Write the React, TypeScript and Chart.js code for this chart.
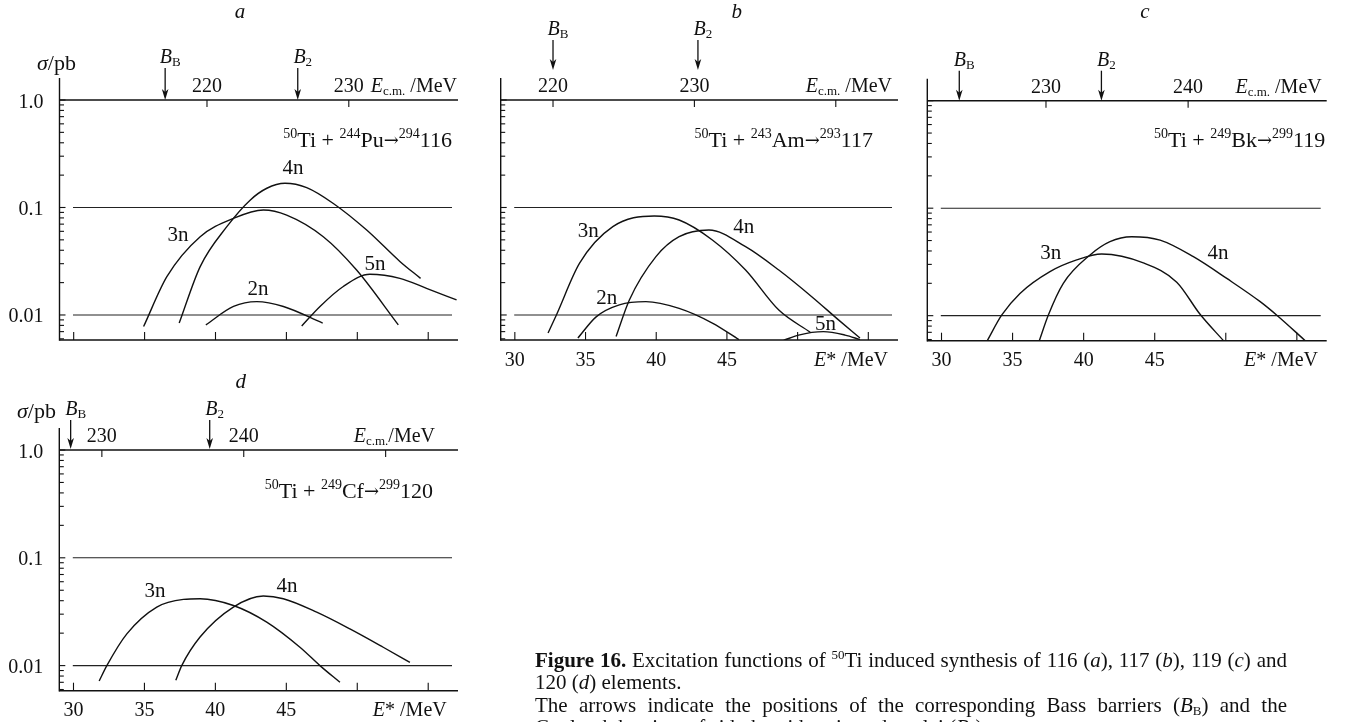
import React, { useEffect, useRef } from "react";
import { Chart, registerables } from "chart.js";
Chart.register(...registerables);

const W = 1348;
const H = 722;
const FONT = '"Liberation Serif", "Times New Roman", serif';
const ARROW_FONT = '"DejaVu Serif", serif';

// ---------- shared axis values ----------
const eStarMin = 29.0;
const eStarMax = 57.1;
const sigmaMin = 0.00585;
const sigmaMax = 1.0;
const eStarTicks = [30, 35, 40, 45, 50, 55];
const eStarTickLabels = ["30", "35", "40", "45", "", ""];
const sigmaMajorTicks = [1.0, 0.1, 0.01];
const sigmaTickLabels = ["1.0", "0.1", "0.01"];
const sigmaGridLines = [0.1, 0.01];
const minorMultipliers = [2, 3, 4, 5, 6, 7, 8, 9];
const decades = [0.001, 0.01, 0.1];

// ---------- panel a : 50Ti + 244Pu -> 294116 ----------
const aQ = 180.6; // E_cm - E*
const aEcmTicks = [220, 230];
const aEcmTickLabels = ["220", "230"];
const aBarriers = [217.05, 226.4]; // B_B, B_2 (E_cm, MeV)
const a2nE = [39.32, 41.27, 42.91, 44.79, 47.56];
const a2nS = [0.0081, 0.012, 0.0133, 0.012, 0.0084];
const a3nE = [34.93, 36.57, 38.92, 41.27, 43.38, 45.02, 47.6, 49.95, 52.89];
const a3nS = [0.0078, 0.0227, 0.0535, 0.0793, 0.0948, 0.085, 0.0535, 0.0262, 0.0081];
const a4nE = [37.44, 38.92, 40.8, 42.44, 43.62, 44.9, 46.43, 48.31, 50.66, 53.0, 54.46];
const a4nS = [0.0084, 0.0282, 0.0663, 0.117, 0.151, 0.168, 0.153, 0.109, 0.0617, 0.0315, 0.0219];
const a5nE = [46.08, 47.37, 49.01, 50.89, 53.0, 54.88, 57.0];
const a5nS = [0.0079, 0.012, 0.0184, 0.0239, 0.0219, 0.0177, 0.0138];
const aCurveNames = ["2n", "3n", "4n", "5n"];
const aLabelE = [43.0, 37.36, 45.47, 51.25];
const aLabelS = [0.01534, 0.0491, 0.2048, 0.0262];

// ---------- panel b : 50Ti + 243Am -> 293117 ----------
const bQ = 187.3;
const bEcmTicks = [220, 230, 240];
const bEcmTickLabels = ["220", "230", ""];
const bBarriers = [220.0, 230.25];
const b2nE = [34.46, 35.75, 37.39, 39.27, 41.62, 43.97, 45.85];
const b2nS = [0.0061, 0.0096, 0.0124, 0.0133, 0.0115, 0.0084, 0.0059];
const b3nE = [32.35, 32.94, 34.58, 36.93, 39.86, 41.62, 43.97, 46.32, 48.67, 50.9];
const b3nS = [0.0068, 0.01, 0.0303, 0.0663, 0.0834, 0.0765, 0.0499, 0.0262, 0.0111, 0.0069];
const b4nE = [37.16, 38.1, 39.98, 41.62, 43.73, 46.32, 48.67, 51.0, 52.89, 54.41];
const b4nS = [0.0063, 0.0138, 0.0349, 0.0535, 0.0617, 0.0432, 0.0262, 0.0148, 0.009, 0.0061];
const b5nE = [49.01, 50.07, 51.83, 53.36, 54.41];
const b5nS = [0.0058, 0.0065, 0.007, 0.0065, 0.0059];
const bCurveNames = ["2n", "3n", "4n", "5n"];
const bLabelE = [36.5, 35.2, 46.19, 51.98];
const bLabelS = [0.01265, 0.0535, 0.0579, 0.00724];

// ---------- panel c : 50Ti + 249Bk -> 299119 ----------
const cQ = 192.65;
const cEcmTicks = [230, 240];
const cEcmTickLabels = ["230", "240"];
const cBarriers = [223.9, 233.9];
const c3nE = [33.22, 34.23, 35.52, 37.63, 39.51, 41.27, 44.2, 46.55, 48.19, 49.84];
const c3nS = [0.00585, 0.0101, 0.0161, 0.0257, 0.033, 0.0375, 0.031, 0.0205, 0.0103, 0.00585];
const c4nE = [36.88, 37.51, 38.57, 40.45, 41.85, 43.38, 45.38, 47.72, 50.07, 52.42, 53.59, 55.59];
const c4nS = [0.00585, 0.0101, 0.02, 0.0367, 0.0488, 0.0543, 0.0505, 0.0354, 0.0222, 0.0135, 0.0101, 0.00585];
const cCurveNames = ["3n", "4n"];
const cLabelE = [37.69, 49.46];
const cLabelS = [0.03345, 0.03345];

// ---------- panel d : 50Ti + 249Cf -> 299120 ----------
const dQ = 198.0;
const dEcmTicks = [230, 240, 250];
const dEcmTickLabels = ["230", "240", ""];
const dBarriers = [227.8, 237.6];
const d3nE = [31.81, 32.35, 33.76, 35.87, 37.75, 38.92, 41.27, 43.62, 45.96, 47.37, 48.78];
const d3nS = [0.0072, 0.01, 0.0197, 0.0349, 0.0411, 0.0417, 0.0361, 0.0253, 0.0148, 0.01, 0.007];
const d4nE = [37.21, 37.63, 38.92, 41.27, 43.38, 44.79, 47.14, 49.48, 51.83, 53.71];
const d4nS = [0.0073, 0.01, 0.0184, 0.0349, 0.0442, 0.0417, 0.0313, 0.0219, 0.0148, 0.0107];
const dCurveNames = ["3n", "4n"];
const dLabelE = [35.74, 45.05];
const dLabelS = [0.0432, 0.0481];

// ---------- text helpers ----------
type Seg = { t: string; s?: number; i?: boolean; b?: boolean; dy?: number; f?: string };
const SUP = 13;
const RSUP = 14;
const RMAIN = 22;

function rich(ctx: CanvasRenderingContext2D, segs: Seg[], x: number, y: number, align: "left" | "center" | "right") {
  const fonts = segs.map((g) => `${g.i ? "italic " : ""}${g.b ? "bold " : ""}${g.s ?? 20}px ${g.f ?? FONT}`);
  const widths = segs.map((g, k) => {
    ctx.font = fonts[k];
    return ctx.measureText(g.t).width;
  });
  const total = widths.reduce((p, c) => p + c, 0);
  let cx = align === "left" ? x : align === "center" ? x - total / 2 : x - total;
  ctx.textAlign = "left";
  ctx.textBaseline = "alphabetic";
  segs.forEach((g, k) => {
    ctx.font = fonts[k];
    ctx.fillText(g.t, cx, y + (g.dy ?? 0));
    cx += widths[k];
  });
}

function reaction(target: string, targetA: string, cnA: string, cn: string): Seg[] {
  return [
    { t: "50", s: RSUP, dy: -9 },
    { t: "Ti + ", s: RMAIN },
    { t: targetA, s: RSUP, dy: -9 },
    { t: target, s: RMAIN },
    { t: "→", s: 18, f: ARROW_FONT, dy: -1 },
    { t: cnA, s: RSUP, dy: -9 },
    { t: cn, s: RMAIN },
  ];
}

function seg(ctx: CanvasRenderingContext2D, x0: number, y0: number, x1: number, y1: number) {
  ctx.beginPath();
  ctx.moveTo(x0, y0);
  ctx.lineTo(x1, y1);
  ctx.stroke();
}

function arrowDown(ctx: CanvasRenderingContext2D, x: number, y0: number, y1: number) {
  seg(ctx, x, y0, x, y1 - 6);
  ctx.beginPath();
  ctx.moveTo(x, y1);
  ctx.lineTo(x - 3.3, y1 - 11);
  ctx.lineTo(x, y1 - 8);
  ctx.lineTo(x + 3.3, y1 - 11);
  ctx.closePath();
  ctx.fill();
}

type PanelCfg = {
  area: { l: number; t: number; r: number; b: number };
  q: number;
  ecmTicks: number[];
  ecmLabels: string[];
  barriers: number[];
  curves: { E: number[]; S: number[] }[];
  names: string[];
  labelE: number[];
  labelS: number[];
  title: { t: string; x: number; y: number };
  yLabels: boolean;
  sigmaTitle?: { x: number; y: number };
  xLabels: boolean;
  react: Seg[];
  reactDx: number;
  reactDy: number;
  ecmTitle: Seg[];
  ecmTitleDx: number;
  estarTitleDx: number;
  arrowTop: number;
  arrowBottom: number;
};

const ecmSegs: Seg[] = [{ t: "E", i: true }, { t: "c.m.", s: SUP, dy: 3 }, { t: " /MeV" }];
const ecmSegsTight: Seg[] = [{ t: "E", i: true }, { t: "c.m.", s: SUP, dy: 3 }, { t: "/MeV" }];
const estarSegs: Seg[] = [{ t: "E", i: true }, { t: "*" }, { t: " /MeV" }];
const barrierNames: Seg[][] = [
  [{ t: "B", i: true }, { t: "B", s: SUP, dy: 3 }],
  [{ t: "B", i: true }, { t: "2", s: SUP, dy: 3 }],
];

const panels: PanelCfg[] = [
  {
    area: { l: 59.5, t: 100, r: 458, b: 340 },
    q: aQ, ecmTicks: aEcmTicks, ecmLabels: aEcmTickLabels, barriers: aBarriers,
    curves: [{ E: a2nE, S: a2nS }, { E: a3nE, S: a3nS }, { E: a4nE, S: a4nS }, { E: a5nE, S: a5nS }],
    names: aCurveNames, labelE: aLabelE, labelS: aLabelS,
    title: { t: "a", x: 240, y: 18 },
    yLabels: true, sigmaTitle: { x: 37, y: 70 }, xLabels: false,
    react: reaction("Pu", "244", "294", "116"), reactDx: -6, reactDy: 47,
    ecmTitle: ecmSegs, ecmTitleDx: -1, estarTitleDx: 0,
    arrowTop: -32, arrowBottom: 0,
  },
  {
    area: { l: 500.7, t: 100, r: 898, b: 340 },
    q: bQ, ecmTicks: bEcmTicks, ecmLabels: bEcmTickLabels, barriers: bBarriers,
    curves: [{ E: b2nE, S: b2nS }, { E: b3nE, S: b3nS }, { E: b4nE, S: b4nS }, { E: b5nE, S: b5nS }],
    names: bCurveNames, labelE: bLabelE, labelS: bLabelS,
    title: { t: "b", x: 736.7, y: 18.3 },
    yLabels: false, xLabels: true,
    react: reaction("Am", "243", "293", "117"), reactDx: -25, reactDy: 46.7,
    ecmTitle: ecmSegs, ecmTitleDx: -6, estarTitleDx: -10,
    arrowTop: -60, arrowBottom: -30,
  },
  {
    area: { l: 927.3, t: 100.7, r: 1326.7, b: 340.7 },
    q: cQ, ecmTicks: cEcmTicks, ecmLabels: cEcmTickLabels, barriers: cBarriers,
    curves: [{ E: c3nE, S: c3nS }, { E: c4nE, S: c4nS }],
    names: cCurveNames, labelE: cLabelE, labelS: cLabelS,
    title: { t: "c", x: 1145, y: 18.3 },
    yLabels: false, xLabels: true,
    react: reaction("Bk", "249", "299", "119"), reactDx: -1.5, reactDy: 46,
    ecmTitle: ecmSegs, ecmTitleDx: -5, estarTitleDx: -8.7,
    arrowTop: -30, arrowBottom: 0,
  },
  {
    area: { l: 59.3, t: 450, r: 458, b: 690.7 },
    q: dQ, ecmTicks: dEcmTicks, ecmLabels: dEcmTickLabels, barriers: dBarriers,
    curves: [{ E: d3nE, S: d3nS }, { E: d4nE, S: d4nS }],
    names: dCurveNames, labelE: dLabelE, labelS: dLabelS,
    title: { t: "d", x: 240.7, y: 388.3 },
    yLabels: true, sigmaTitle: { x: 17, y: 418 }, xLabels: true,
    react: reaction("Cf", "249", "299", "120"), reactDx: -25, reactDy: 48.3,
    ecmTitle: ecmSegsTight, ecmTitleDx: -23, estarTitleDx: -11.3,
    arrowTop: -30, arrowBottom: -1,
  },
];

function makeDeco(cfg: PanelCfg) {
  return {
    id: "deco",
    beforeDatasetsDraw(chart: any) {
      const ctx: CanvasRenderingContext2D = chart.ctx;
      const { left, right, top, bottom } = chart.chartArea;
      const xs = chart.scales.x;
      const ys = chart.scales.y;
      const xt = chart.scales.xt;
      ctx.save();
      ctx.strokeStyle = "#111";
      ctx.fillStyle = "#111";
      ctx.lineWidth = 1.4;
      seg(ctx, left, top - 22, left, bottom + 0.7);
      seg(ctx, left, top, right, top);
      seg(ctx, left, bottom, right, bottom);
      ctx.lineWidth = 1.1;
      decades.forEach((d) => {
        minorMultipliers.forEach((m) => {
          const v = d * m;
          if (v < sigmaMin || v > sigmaMax) return;
          const y = ys.getPixelForValue(v);
          seg(ctx, left, y, left + 4.5, y);
        });
      });
      sigmaMajorTicks.forEach((v) => {
        const y = ys.getPixelForValue(v);
        seg(ctx, left, y, left + 6, y);
      });
      ctx.strokeStyle = "#222";
      sigmaGridLines.forEach((v) => {
        const y = ys.getPixelForValue(v);
        seg(ctx, left + 13.5, y, right - 6, y);
      });
      ctx.strokeStyle = "#111";
      eStarTicks.forEach((v) => {
        const x = xs.getPixelForValue(v);
        seg(ctx, x, bottom, x, bottom - 8);
      });
      cfg.ecmTicks.forEach((v) => {
        const x = xt.getPixelForValue(v);
        seg(ctx, x, top, x, top + 7);
      });
      ctx.restore();
    },
    afterDatasetsDraw(chart: any) {
      const ctx: CanvasRenderingContext2D = chart.ctx;
      const { left, right, top, bottom } = chart.chartArea;
      const xs = chart.scales.x;
      const ys = chart.scales.y;
      const xt = chart.scales.xt;
      ctx.save();
      ctx.fillStyle = "#111";
      ctx.strokeStyle = "#111";
      ctx.lineWidth = 1.3;
      rich(ctx, [{ t: cfg.title.t, i: true, s: 21 }], cfg.title.x, cfg.title.y, "center");
      if (cfg.yLabels) {
        sigmaMajorTicks.forEach((v, k) => {
          const y = ys.getPixelForValue(v);
          rich(ctx, [{ t: sigmaTickLabels[k] }], left - 16, y + 7.5, "right");
        });
      }
      if (cfg.sigmaTitle) {
        rich(ctx, [{ t: "σ", i: true, s: 22 }, { t: "/pb", s: 22 }], cfg.sigmaTitle.x, cfg.sigmaTitle.y, "left");
      }
      if (cfg.xLabels) {
        eStarTicks.forEach((v, k) => {
          if (!eStarTickLabels[k]) return;
          rich(ctx, [{ t: eStarTickLabels[k] }], xs.getPixelForValue(v), bottom + 25.5, "center");
        });
        rich(ctx, estarSegs, right + cfg.estarTitleDx, bottom + 25.5, "right");
      }
      cfg.ecmTicks.forEach((v, k) => {
        if (!cfg.ecmLabels[k]) return;
        rich(ctx, [{ t: cfg.ecmLabels[k] }], xt.getPixelForValue(v), top - 8, "center");
      });
      rich(ctx, cfg.ecmTitle, right + cfg.ecmTitleDx, top - 8, "right");
      cfg.barriers.forEach((v, k) => {
        const x = xt.getPixelForValue(v);
        arrowDown(ctx, x, top + cfg.arrowTop, top + cfg.arrowBottom);
        rich(ctx, barrierNames[k], x + 5, top + cfg.arrowTop - 5, "center");
      });
      rich(ctx, cfg.react, right + cfg.reactDx, top + cfg.reactDy, "right");
      cfg.names.forEach((n, k) => {
        rich(ctx, [{ t: n, s: 21 }], xs.getPixelForValue(cfg.labelE[k]), ys.getPixelForValue(cfg.labelS[k]), "center");
      });
      ctx.restore();
    },
  };
}

function Panel({ cfg }: { cfg: PanelCfg }) {
  const ref = useRef<HTMLCanvasElement | null>(null);
  useEffect(() => {
    if (!ref.current) return;
    const { l, t, r, b } = cfg.area;
    const chart = new Chart(ref.current, {
      type: "line",
      data: {
        datasets: cfg.curves.map((c) => ({
          data: c.E.map((x, i) => ({ x, y: c.S[i] })),
          borderColor: "#111",
          borderWidth: 1.4,
          pointRadius: 0,
          fill: false,
          cubicInterpolationMode: "monotone" as const,
        })),
      },
      options: {
        animation: false,
        responsive: false,
        devicePixelRatio: 1,
        events: [],
        layout: { padding: { left: l, top: t, right: W - r, bottom: H - b } },
        plugins: { legend: { display: false }, tooltip: { enabled: false } },
        scales: {
          x: { type: "linear", min: eStarMin, max: eStarMax, display: false },
          xt: { type: "linear", axis: "x", position: "top", min: eStarMin + cfg.q, max: eStarMax + cfg.q, display: false },
          y: { type: "logarithmic", min: sigmaMin, max: sigmaMax, display: false },
        },
      } as any,
      plugins: [makeDeco(cfg)],
    });
    return () => chart.destroy();
  }, [cfg]);
  return (
    <canvas
      ref={ref}
      width={W}
      height={H}
      style={{ position: "absolute", left: 0, top: 0, width: W, height: H }}
    />
  );
}

const capSup: React.CSSProperties = { fontSize: 13, lineHeight: 0, verticalAlign: "8px" };
const capSub: React.CSSProperties = { fontSize: 13, lineHeight: 0, verticalAlign: "-3px" };

export default function App() {
  return (
    <div style={{ position: "absolute", left: 0, top: 0, width: W, height: H, overflow: "hidden", background: "#fff" }}>
      {panels.map((p, k) => (
        <Panel key={k} cfg={p} />
      ))}
      <div
        style={{
          position: "absolute",
          left: 535,
          top: 648.7,
          width: 752,
          fontFamily: FONT,
          fontSize: 21,
          lineHeight: "22.4px",
          color: "#111",
          whiteSpace: "nowrap",
        }}
      >
        <div style={{ textAlign: "justify", textAlignLast: "justify" as any }}>
          <b>Figure 16.</b> Excitation functions of <span style={capSup}>50</span>Ti induced synthesis of 116 (<i>a</i>), 117 (<i>b</i>), 119 (<i>c</i>) and
        </div>
        <div>
          120 (<i>d</i>) elements.
        </div>
        <div style={{ textAlign: "justify", textAlignLast: "justify" as any }}>
          The arrows indicate the positions of the corresponding Bass barriers (<i>B</i><span style={capSub}>B</span>) and the
        </div>
        <div>
          Coulomb barriers of side-by-side oriented nuclei (<i>B</i><span style={capSub}>2</span>).
        </div>
      </div>
    </div>
  );
}
